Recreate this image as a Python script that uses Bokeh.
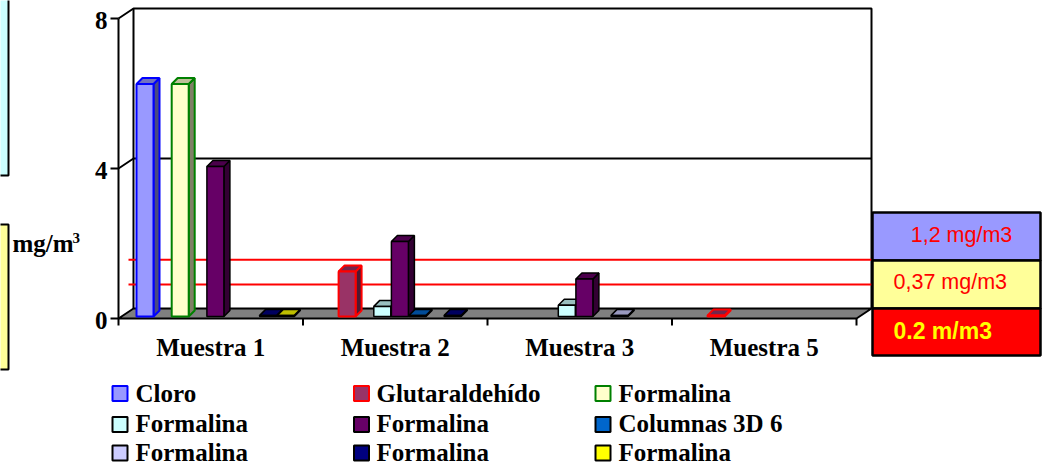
import math
from bokeh.plotting import figure
from bokeh.models import Range1d, ColumnDataSource
from bokeh.core.properties import value
from bokeh.embed import file_html
from bokeh.resources import INLINE

# ---------------- data ----------------
categories = ["Muestra 1", "Muestra 2", "Muestra 3", "Muestra 5"]
series_names = ["Cloro", "Glutaraldehído", "Formalina", "Formalina", "Formalina",
                "Columnas 3D 6", "Formalina", "Formalina", "Formalina"]
nan = float("nan")
cloro          = [6.2, nan, nan, nan]
glutaraldehido = [nan, 1.2, nan, 0.03]
formalina_a    = [6.2, nan, nan, nan]
formalina_b    = [nan, 0.27, 0.3, nan]
formalina_c    = [4.0, 2.0, 1.0, nan]
columnas_3d_6  = [nan, 0.03, nan, nan]
formalina_d    = [nan, nan, 0.03, nan]
formalina_e    = [0.03, 0.03, nan, nan]
formalina_f    = [0.03, nan, nan, nan]
series_values = [cloro, glutaraldehido, formalina_a, formalina_b, formalina_c,
                 columnas_3d_6, formalina_d, formalina_e, formalina_f]
y_ticks = [0, 4, 8]
limit_levels = [1.57, 0.91]
limit_labels = ["1,2 mg/m3", "0,37 mg/m3", "0.2 m/m3"]

# ---------------- styles ----------------
front_colors = ["#9999FF", "#993366", "#FFFFCC", "#CCFFFF", "#660066",
                "#0066CC", "#CCCCFF", "#000080", "#FFFF00"]
edge_colors = ["#0000FF", "#FF0000", "#008000", "#000000", "#000000",
               "#000000", "#000000", "#000000", "#000000"]


def shade(hexc, f):
    r, g, b = int(hexc[1:3], 16), int(hexc[3:5], 16), int(hexc[5:7], 16)
    return "#%02x%02x%02x" % (int(r * f), int(g * f), int(b * f))


W, H = 1046, 465
X0, Y0 = 118, 318       # pixel of front (category 0, value 0) corner
SX, SY = 184.5, 37.5    # pixels per category / per unit
PX, PY = 1 / SX, 1 / SY
BL = 0.38               # baseline correction (fraction of font size)


def X(v):
    return (v - X0) / SX


def Y(v):
    return (Y0 - v) / SY


def TY(v, fs):
    return Y(v - BL * fs)


p = figure(width=W, height=H, output_backend="svg", toolbar_location=None,
           x_range=Range1d(-X0 / SX, (W - X0) / SX),
           y_range=Range1d(-(H - Y0) / SY, Y0 / SY),
           x_axis_type=None, y_axis_type=None, min_border=0,
           outline_line_color=None, background_fill_color="white",
           border_fill_color="white")
for g in p.grid:
    g.visible = False

SERIF = value("Liberation Serif")
SANS = value("Liberation Sans")
FS = 25

# left cut-off boxes
p.quad(left=X(-5), right=X(8), top=Y(-5), bottom=Y(175),
       fill_color="#CCFFFF", line_color="black", line_width=2)
p.quad(left=X(-5), right=X(8), top=Y(224), bottom=Y(369),
       fill_color="#FFFF99", line_color="black", line_width=2)

# walls
WDX, WDY = 15 * PX, 10 * PY
ncat = len(categories)
ymax = max(y_ticks)
p.line([0, WDX, ncat + WDX, ncat + WDX], [ymax, ymax + WDY, ymax + WDY, WDY],
       line_color="black", line_width=2)
p.line([WDX, WDX], [WDY, ymax + WDY], line_color="black", line_width=2)
p.line([0, 0], [0, ymax], line_color="black", line_width=2)
for t in y_ticks[1:-1]:
    p.line([0, WDX, ncat + WDX], [t, t + WDY, t + WDY], line_color="black", line_width=2)

# floor
p.patch([0, ncat, ncat + WDX, WDX], [0, 0, WDY, WDY],
        fill_color="#808080", line_color="black", line_width=2)

# ticks
p.segment(x0=[-8 * PX] * len(y_ticks), x1=[0] * len(y_ticks), y0=y_ticks, y1=y_ticks,
          line_color="black", line_width=2)
p.segment(x0=list(range(ncat + 1)), x1=list(range(ncat + 1)),
          y0=[0] * (ncat + 1), y1=[-7 * PY] * (ncat + 1), line_color="black", line_width=2)

# red limit lines
p.segment(x0=[X(128)] * len(limit_levels), x1=[X(872)] * len(limit_levels),
          y0=limit_levels, y1=limit_levels, line_color="#FF0000", line_width=2)

# bars (pseudo-3D)
BW = 17 * PX
SLOT = 17.6 * PX
OFF = 18 * PX
BASE = 2 * PY
DDX, DDY = 6 * PX, 6 * PY
for s, vals in enumerate(series_values):
    xs, ys, fills = [], [], []
    for c, v in enumerate(vals):
        if v is None or math.isnan(v):
            continue
        xl = c + OFF + SLOT * s
        xr = xl + BW
        b = BASE
        t = BASE + v
        xs.append([xr, xr + DDX, xr + DDX, xr]); ys.append([b, b + DDY, t + DDY, t])
        fills.append(shade(front_colors[s], 0.5))
        xs.append([xl, xr, xr + DDX, xl + DDX]); ys.append([t, t, t + DDY, t + DDY])
        fills.append(shade(front_colors[s], 0.75))
        xs.append([xl, xr, xr, xl]); ys.append([b, b, t, t])
        fills.append(front_colors[s])
    if xs:
        src = ColumnDataSource(dict(xs=xs, ys=ys, fill=fills))
        p.patches("xs", "ys", source=src, fill_color="fill", line_color=edge_colors[s],
                  line_width=2 if edge_colors[s] != "#000000" else 1.5)

# y tick labels
p.text(x=[X(107)] * len(y_ticks), y=[t - (11 - BL * FS) * PY for t in y_ticks],
       text=[str(t) for t in y_ticks], text_align="right", text_baseline="alphabetic",
       text_font=SERIF, text_font_style="bold", text_font_size=f"{FS}px", text_color="black")

# unit label
p.text(x=[X(12)], y=[TY(252, FS)], text=["mg/m"], text_align="left", text_baseline="alphabetic",
       text_font=SERIF, text_font_style="bold", text_font_size=f"{FS}px", text_color="black")
p.text(x=[X(72)], y=[TY(243, 15)], text=["3"], text_align="left", text_baseline="alphabetic",
       text_font=SERIF, text_font_style="bold", text_font_size="15px", text_color="black")

# category labels
p.text(x=[c + 0.5 for c in range(ncat)], y=[TY(356, FS)] * ncat, text=categories,
       text_align="center", text_baseline="alphabetic",
       text_font=SERIF, text_font_style="bold", text_font_size=f"{FS}px", text_color="black")

# right limit boxes
box_tops = [212, 260, 308]
box_bots = [260, 308, 355]
box_fills = ["#9999FF", "#FFFF99", "#FF0000"]
p.quad(left=[X(872)] * 3, right=[X(1040)] * 3, top=[Y(v) for v in box_tops],
       bottom=[Y(v) for v in box_bots], fill_color=box_fills, line_color="black", line_width=2.5)
p.text(x=[X(961)], y=[TY(243, 21.5)], text=[limit_labels[0]], text_align="center",
       text_baseline="alphabetic", text_font=SANS, text_font_size="21.5px", text_color="#FF0000")
p.text(x=[X(893)], y=[TY(290, 21.5)], text=[limit_labels[1]], text_align="left",
       text_baseline="alphabetic", text_font=SANS, text_font_size="21.5px", text_color="#FF0000")
p.text(x=[X(893)], y=[TY(339, 23)], text=[limit_labels[2]], text_align="left",
       text_baseline="alphabetic", text_font=SANS, text_font_style="bold",
       text_font_size="23px", text_color="#FFFF00")

# legend (3 columns, row-major)
col_marker = [119.5, 361, 602.5]
col_text = [135, 376, 618]
row_marker = [393, 424, 452.5]
row_base = [402, 432, 461]
lx, ly, lt, lmx, lmy = [], [], [], [], []
for s, name in enumerate(series_names):
    r, c = s // 3, s % 3
    lmx.append(X(col_marker[c])); lmy.append(Y(row_marker[r]))
    lx.append(X(col_text[c])); ly.append(TY(row_base[r], FS)); lt.append(name)
p.scatter(x=lmx, y=lmy, marker="square", size=15, fill_color=front_colors,
          line_color=edge_colors, line_width=2)
p.text(x=lx, y=ly, text=lt, text_align="left", text_baseline="alphabetic",
       text_font=SERIF, text_font_style="bold", text_font_size=f"{FS}px", text_color="black")

open("out.html", "w").write(file_html(p, INLINE))
